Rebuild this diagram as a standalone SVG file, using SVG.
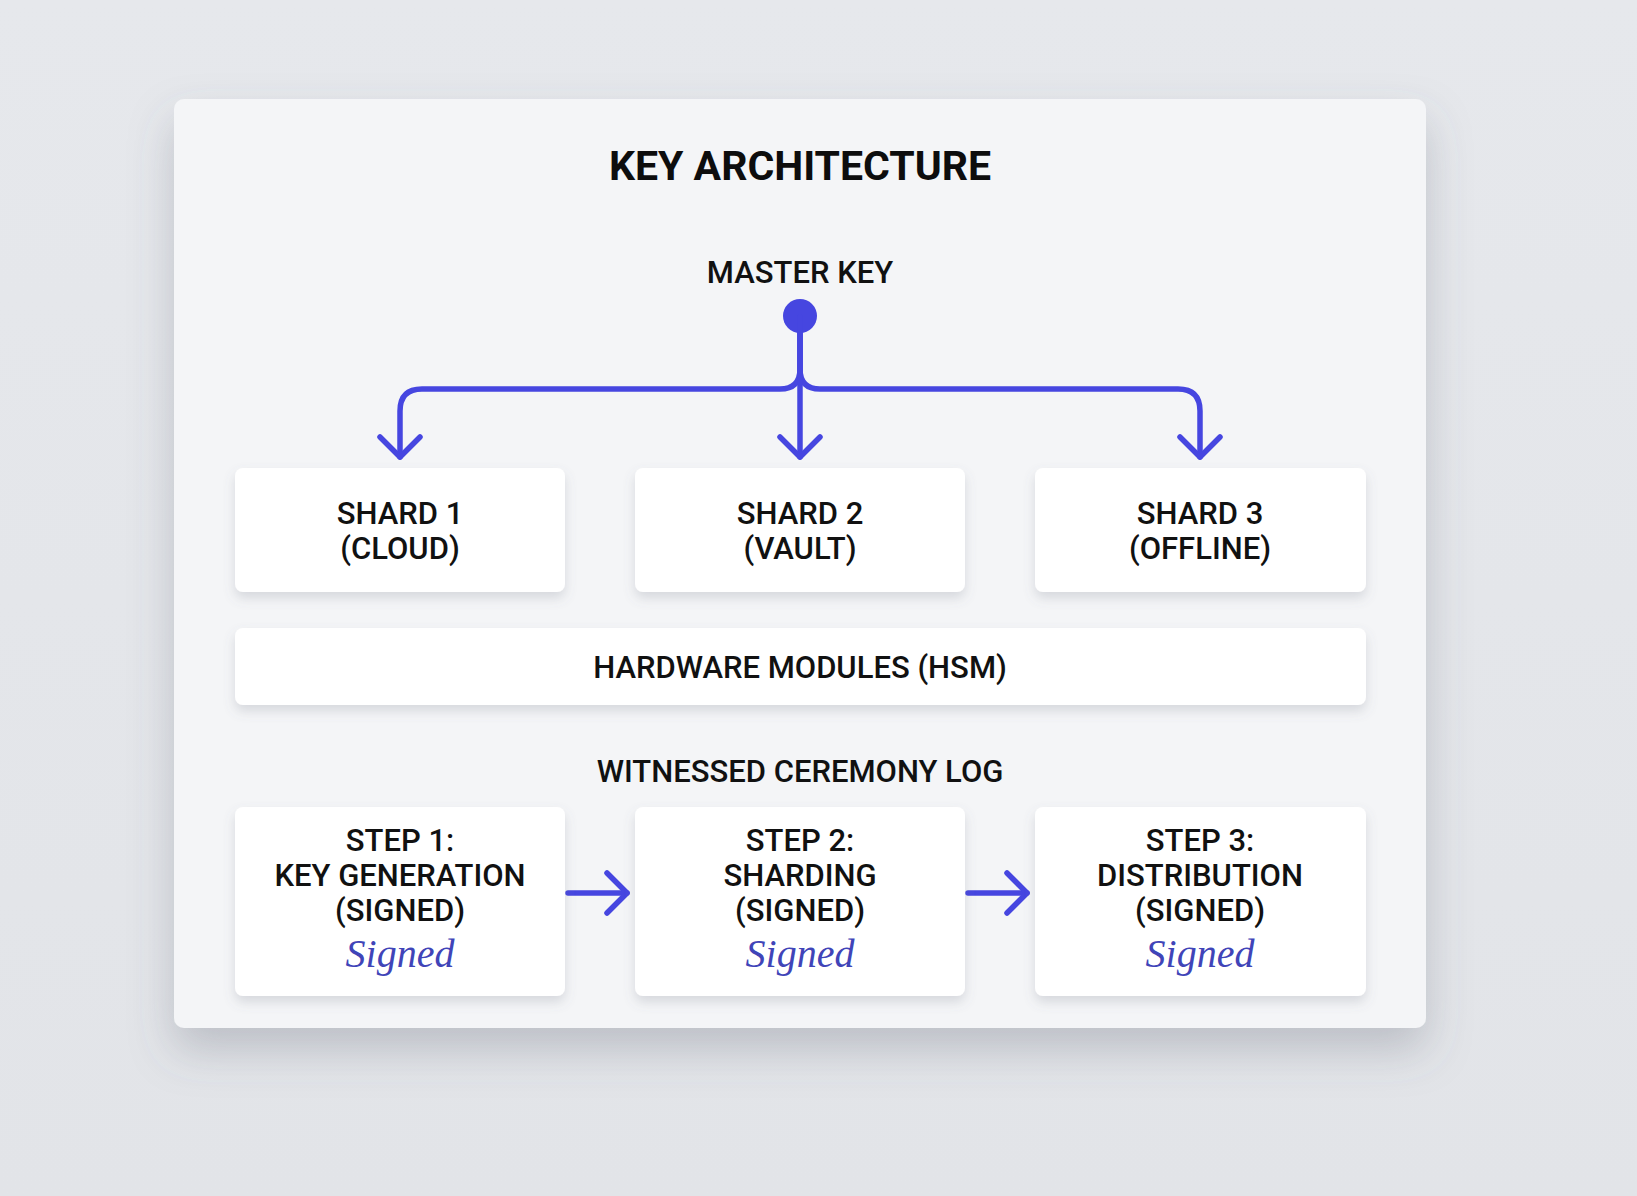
<svg xmlns="http://www.w3.org/2000/svg" width="1637" height="1196" viewBox="0 0 1637 1196">
  <defs>
    <linearGradient id="bg" x1="0" y1="0" x2="0" y2="1">
      <stop offset="0" stop-color="#e6e8ec"/>
      <stop offset="1" stop-color="#e2e4e8"/>
    </linearGradient>
    <filter id="cardShadow" x="-10%" y="-10%" width="120%" height="130%">
      <feDropShadow dx="0" dy="22" stdDeviation="22" flood-color="#5a6070" flood-opacity="0.28"/>
    </filter>
    <filter id="boxShadow" x="-10%" y="-20%" width="120%" height="150%">
      <feDropShadow dx="0" dy="6" stdDeviation="6" flood-color="#6a7080" flood-opacity="0.22"/>
    </filter>
    <marker id="chev" viewBox="-26 -26 32 52" markerWidth="32" markerHeight="52" refX="0" refY="0" orient="auto" markerUnits="userSpaceOnUse">
      <path d="M-20,-20 L0,0 L-20,20" fill="none" stroke="#4646e0" stroke-width="5.5" stroke-linecap="round" stroke-linejoin="round"/>
    </marker>
    <style>
      .box { fill: #ffffff; filter: url(#boxShadow); }
      .lbl { font-family: Roboto, "Liberation Sans", sans-serif; font-weight: 500; font-size: 31px; fill: #111111; text-anchor: middle; }
      .title { font-family: Roboto, "Liberation Sans", sans-serif; font-weight: 700; font-size: 41px; fill: #0d0d0d; text-anchor: middle; }
      .sig { font-family: "Liberation Serif", "DejaVu Serif", serif; font-style: italic; font-size: 40px; fill: #4044b8; text-anchor: middle; }
      .conn { fill: none; stroke: #4646e0; stroke-width: 5.5; stroke-linecap: round; stroke-linejoin: round; }
    </style>
  </defs>

  <rect width="1637" height="1196" fill="url(#bg)"/>

  <g id="card">
    <rect x="174" y="99" width="1252" height="929" rx="10" fill="#f4f5f7" filter="url(#cardShadow)"/>
    <text class="title" x="800" y="180">KEY ARCHITECTURE</text>
  </g>

  <g id="master-key">
    <text class="lbl" x="800" y="283">MASTER KEY</text>
    <circle cx="800" cy="316" r="17" fill="#4646e0"/>
  </g>

  <g id="connectors">
    <path class="conn" d="M800,317 V369 Q800,389 780,389 H422 Q400,389 400,411 V457" marker-end="url(#chev)"/>
    <path class="conn" d="M800,317 V369 Q800,389 820,389 H1178 Q1200,389 1200,411 V457" marker-end="url(#chev)"/>
    <path class="conn" d="M800,317 V457" marker-end="url(#chev)"/>
    <path class="conn" d="M568,893 H627" marker-end="url(#chev)"/>
    <path class="conn" d="M968,893 H1027" marker-end="url(#chev)"/>
  </g>

  <g id="shard1">
    <rect class="box" x="235" y="468" width="330" height="124" rx="8"/>
    <text class="lbl" x="400" y="524">SHARD 1</text>
    <text class="lbl" x="400" y="559">(CLOUD)</text>
  </g>
  <g id="shard2">
    <rect class="box" x="635" y="468" width="330" height="124" rx="8"/>
    <text class="lbl" x="800" y="524">SHARD 2</text>
    <text class="lbl" x="800" y="559">(VAULT)</text>
  </g>
  <g id="shard3">
    <rect class="box" x="1035" y="468" width="331" height="124" rx="8"/>
    <text class="lbl" x="1200" y="524">SHARD 3</text>
    <text class="lbl" x="1200" y="559">(OFFLINE)</text>
  </g>

  <g id="hsm">
    <rect class="box" x="235" y="628" width="1131" height="77" rx="8"/>
    <text class="lbl" x="800" y="678">HARDWARE MODULES (HSM)</text>
  </g>

  <g id="ceremony-log">
    <text class="lbl" x="800" y="782">WITNESSED CEREMONY LOG</text>
  </g>

  <g id="step1">
    <rect class="box" x="235" y="807" width="330" height="189" rx="8"/>
    <text class="lbl" x="400" y="851">STEP 1:</text>
    <text class="lbl" x="400" y="886">KEY GENERATION</text>
    <text class="lbl" x="400" y="921">(SIGNED)</text>
    <text class="sig" x="400" y="967">Signed</text>
  </g>
  <g id="step2">
    <rect class="box" x="635" y="807" width="330" height="189" rx="8"/>
    <text class="lbl" x="800" y="851">STEP 2:</text>
    <text class="lbl" x="800" y="886">SHARDING</text>
    <text class="lbl" x="800" y="921">(SIGNED)</text>
    <text class="sig" x="800" y="967">Signed</text>
  </g>
  <g id="step3">
    <rect class="box" x="1035" y="807" width="331" height="189" rx="8"/>
    <text class="lbl" x="1200" y="851">STEP 3:</text>
    <text class="lbl" x="1200" y="886">DISTRIBUTION</text>
    <text class="lbl" x="1200" y="921">(SIGNED)</text>
    <text class="sig" x="1200" y="967">Signed</text>
  </g>
</svg>
